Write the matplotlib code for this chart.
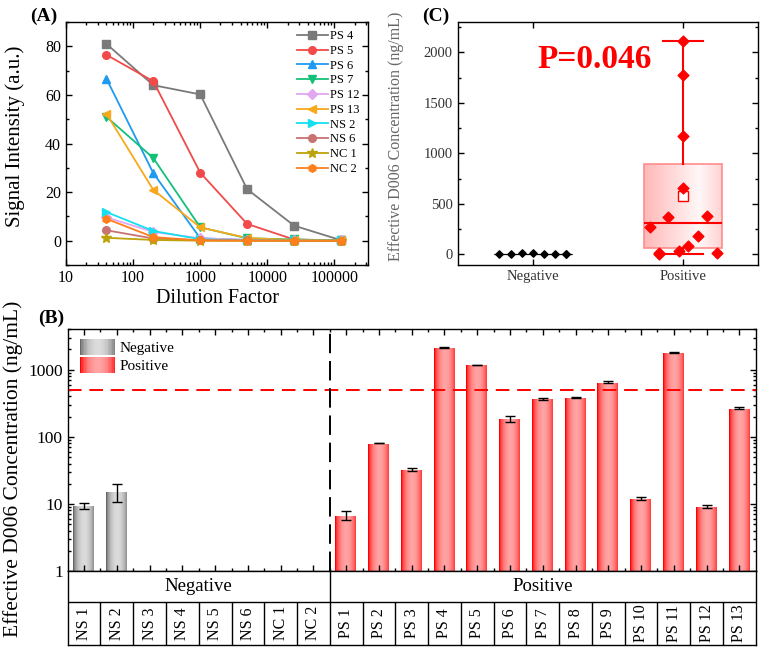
import numpy as np
import matplotlib
matplotlib.use('Agg')
import matplotlib.pyplot as plt
from matplotlib.ticker import LogLocator, MultipleLocator, NullFormatter, FixedLocator, FixedFormatter
from matplotlib.legend_handler import HandlerBase
from matplotlib.patches import Rectangle

plt.rcParams['font.family'] = ['Liberation Serif', 'DejaVu Serif']

# ---------------- Panel A data ----------------
dilution = [40, 200, 1000, 5000, 25000, 125000]
series_names = ['PS 4', 'PS 5', 'PS 6', 'PS 7', 'PS 12', 'PS 13', 'NS 2', 'NS 6', 'NC 1', 'NC 2']
ps4 = [81.0, 64.0, 60.2, 21.2, 6.2, 0.2]
ps5 = [76.5, 65.6, 28.0, 6.9, 0.5, 0.1]
ps6 = [66.7, 27.8, 1.0, 0.3, 0.1, 0.1]
ps7 = [51.0, 34.0, 5.5, 1.0, 0.5, 0.1]
ps12 = [9.6, 3.6, 1.0, 0.3, 0.1, 0.1]
ps13 = [52.3, 20.9, 5.5, 1.1, 0.3, 0.1]
ns2 = [11.8, 4.0, 0.6, 0.1, 0.1, 0.1]
ns6 = [4.3, 0.9, 0.2, 0.1, 0.0, 0.0]
nc1 = [1.2, 0.3, 0.0, 0.0, 0.0, 0.0]
nc2 = [9.0, 1.5, 0.1, 0.0, 0.0, 0.0]
series_values = [ps4, ps5, ps6, ps7, ps12, ps13, ns2, ns6, nc1, nc2]

# ---------------- Panel B data ----------------
neg_samples = ['NS 1', 'NS 2', 'NS 3', 'NS 4', 'NS 5', 'NS 6', 'NC 1', 'NC 2']
pos_samples = ['PS 1', 'PS 2', 'PS 3', 'PS 4', 'PS 5', 'PS 6', 'PS 7', 'PS 8', 'PS 9',
               'PS 10', 'PS 11', 'PS 12', 'PS 13']
neg_conc = [9.4, 15.2, 0, 0, 0, 0, 0, 0]
neg_err = [1.0, 4.5, 0, 0, 0, 0, 0, 0]
pos_conc = [6.8, 80.5, 32.5, 2110, 1175, 186, 369, 382, 655, 11.9, 1775, 9.1, 268]
pos_err = [1.1, 1.0, 2.0, 40, 10, 18, 15, 8, 25, 0.6, 30, 0.5, 6]
threshold = 500

# ---------------- Panel C data ----------------
group_names = ['Negative', 'Positive']
pos_box_stats = dict(q1=60, med=310, q3=895, whislo=5, whishi=2110, mean=580)
neg_box_stats = dict(q1=3, med=5, q3=7, whislo=3, whishi=7, mean=5)
p_text = 'P=0.046'

# ---------------- styles ----------------
line_colors = ['#7a7a7a', '#f24a4a', '#1e9bf0', '#12c07a', '#e3a6f0',
               '#f7a81b', '#16e0f0', '#c87272', '#bca30a', '#ff7f1c']
line_markers = ['s', 'o', '^', 'v', 'D', '<', '>', 'o', '*', 'h']

W, H = 761, 647
fig = plt.figure(figsize=(W / 100, H / 100), dpi=100)


def frac(x0, y0, x1, y1):
    return [x0 / W, 1 - y1 / H, (x1 - x0) / W, (y1 - y0) / H]


def style_axes(ax, lw=1.0):
    for s in ax.spines.values():
        s.set_linewidth(lw)
    ax.tick_params(which='both', direction='in', top=True, right=True, width=lw)
    ax.tick_params(which='major', length=4)
    ax.tick_params(which='minor', length=2.2)


# ================= Panel A =================
axA = fig.add_axes(frac(66, 22, 368, 265))
for name, vals, c, m in zip(series_names, series_values, line_colors, line_markers):
    ms = 7 if m == '*' else 5.5
    axA.plot(dilution, vals, color=c, marker=m, markersize=ms, lw=1.3, label=name)
axA.set_xscale('log')
axA.set_xlim(10, 3.16e5)
axA.set_ylim(-10, 90)
axA.xaxis.set_major_locator(FixedLocator([10, 100, 1000, 10000, 100000]))
axA.xaxis.set_major_formatter(FixedFormatter(['10', '100', '1000', '10000', '100000']))
axA.xaxis.set_minor_locator(LogLocator(base=10, subs=np.arange(2, 10)))
axA.xaxis.set_minor_formatter(NullFormatter())
axA.yaxis.set_major_locator(MultipleLocator(20))
axA.yaxis.set_minor_locator(MultipleLocator(10))
style_axes(axA)
axA.tick_params(labelsize=11.5)
axA.set_xlabel('Dilution Factor', fontsize=14.5)
axA.set_ylabel('Signal Intensity (a.u.)', fontsize=15)
axA.xaxis.set_label_coords(0.5, -0.1)
axA.yaxis.set_label_coords(-0.135, 0.53)
leg = axA.legend(loc='upper right', frameon=False, fontsize=9, handlelength=2.5,
                 labelspacing=0.22, borderaxespad=0.25, handletextpad=0.2)
fig.text(30 / W, 1 - 16 / H, '(A)', fontsize=14, fontweight='bold', va='center')

# ================= Panel C =================
axC = fig.add_axes(frac(457.7, 22, 758, 265))
bx = axC.bxp([dict(neg_box_stats, label=''), dict(pos_box_stats, label='')],
             positions=[1, 2], widths=0.52, showmeans=True, showfliers=False,
             patch_artist=True, capwidths=[0.27, 0.27],
             meanprops=dict(marker='s', markerfacecolor='white', markeredgecolor='red',
                            markersize=7, markeredgewidth=1.0),
             medianprops=dict(color='red', lw=1.5),
             whiskerprops=dict(color='red', lw=1.5),
             capprops=dict(color='red', lw=1.5),
             boxprops=dict(lw=1.0))
# negative box: collapsed black line
b_neg = bx['boxes'][0]
b_neg.set_facecolor('none')
b_neg.set_edgecolor('black')
b_neg.set_linewidth(0.8)
bx['medians'][0].set_color('black')
bx['medians'][0].set_linewidth(0.8)
for art in bx['whiskers'][:2] + bx['caps'][:2]:
    art.set_visible(False)
bx['means'][0].set_visible(False)
# positive box with gradient
b_pos = bx['boxes'][1]
b_pos.set_facecolor('none')
b_pos.set_edgecolor('#ff8c8c')
b_pos.set_linewidth(1.2)
t = np.linspace(0, 1, 200)
light = np.interp(t, [0, 0.7, 1.0], [0.72, 0.97, 0.82])
grad = np.dstack([np.ones_like(t), light, light])
im = axC.imshow(grad, extent=[2 - 0.26, 2 + 0.26, pos_box_stats['q1'], pos_box_stats['q3']],
                aspect='auto', zorder=1.5, interpolation='bilinear')
im.set_clip_path(b_pos)
b_pos.set_zorder(2)

# points
neg_offsets = [0.0, -0.074, -0.222, -0.148, 0.074, 0.148, 0.222, 0.222]
pos_offsets = [-0.16, 0.033, -0.029, 0.0, 0.0, 0.098, -0.098, 0.162, 0.0, 0.227, 0.0, -0.16, -0.222]
axC.scatter(np.array(neg_offsets) + 1, neg_conc, marker='D', s=14, color='black', zorder=4)
axC.scatter(np.array(pos_offsets) + 2, pos_conc, marker='D', s=30, color='red', zorder=4)
axC.set_xlim(0.5, 2.5)
axC.set_ylim(-106, 2300)
axC.set_xticks([1, 2])
axC.set_xticklabels(group_names)
axC.yaxis.set_major_locator(MultipleLocator(500))
axC.yaxis.set_minor_locator(MultipleLocator(250))
style_axes(axC)
axC.tick_params(axis='x', which='minor', bottom=False, top=False)
axC.tick_params(labelsize=10.5, labelcolor='#333333')
axC.set_ylabel('Effective D006 Concentration (ng/mL)', fontsize=11.5, color='#666666')
axC.yaxis.set_label_coords(-0.18, 0.53)
axC.text(1.41, 1930, p_text, color='red', fontsize=24, fontweight='bold',
         ha='center', va='center')
fig.text(422 / W, 1 - 16 / H, '(C)', fontsize=14, fontweight='bold', va='center')

# ================= Panel B =================
axB = fig.add_axes(frac(67.7, 329.3, 755.7, 571))
samples = neg_samples + pos_samples
conc = neg_conc + pos_conc
err = neg_err + pos_err
n_neg = len(neg_samples)
xpos = np.arange(len(samples))
axB.set_yscale('log')
axB.set_xlim(-0.5, len(samples) - 0.5)
axB.set_ylim(1, 4000)
bw = 0.66


def bar_grad(edge, center, n=100):
    tt = np.linspace(0, 1, n)
    f = np.sin(np.pi * tt) ** 0.6
    rgb = np.array(edge)[None, :] * (1 - f[:, None]) + np.array(center)[None, :] * f[:, None]
    return rgb[None, :, :]


gray_grad = bar_grad((0.40, 0.40, 0.40), (0.86, 0.86, 0.86))
red_grad = bar_grad((1.0, 0.0, 0.0), (1.0, 0.64, 0.64))

for i, (v, e) in enumerate(zip(conc, err)):
    if v <= 0:
        continue
    g = gray_grad if i < n_neg else red_grad
    rect = axB.bar(xpos[i], v, width=bw, bottom=1, color='none', edgecolor='none')[0]
    img = axB.imshow(g, extent=[xpos[i] - bw / 2, xpos[i] + bw / 2, 1, v],
                     aspect='auto', interpolation='bilinear', zorder=1)
    img.set_clip_path(rect)
    axB.errorbar(xpos[i], v, yerr=e, color='black', capsize=3.5, lw=1.0,
                 capthick=1.0, zorder=3)
axB.set_xlim(-0.5, len(samples) - 0.5)
axB.set_ylim(1, 4000)
axB.axhline(threshold, color='red', ls=(0, (7, 4)), lw=1.4, zorder=2)
axB.axvline(n_neg - 0.5, color='black', ls=(0, (10, 4)), lw=1.4, zorder=2)
axB.xaxis.set_major_locator(FixedLocator(xpos))
axB.xaxis.set_minor_locator(FixedLocator(xpos[:-1] + 0.5))
axB.xaxis.set_major_formatter(NullFormatter())
axB.yaxis.set_minor_locator(LogLocator(base=10, subs=np.arange(2, 10), numticks=10))
axB.yaxis.set_minor_formatter(NullFormatter())
axB.yaxis.set_major_locator(FixedLocator([1, 10, 100, 1000]))
axB.yaxis.set_major_formatter(FixedFormatter(['1', '10', '100', '1000']))
style_axes(axB)
axB.tick_params(labelsize=12.5)


class GradHandler(HandlerBase):
    def __init__(self, grad):
        super().__init__()
        self.grad = grad[0]

    def create_artists(self, legend, orig_handle, xdescent, ydescent, width, height,
                       fontsize, trans):
        n = len(self.grad)
        arts = []
        step = max(1, n // 25)
        idx = list(range(0, n, step))
        w = width / len(idx)
        for k, j in enumerate(idx):
            r = Rectangle((-xdescent + k * w, -ydescent - 0.25 * height), w * 1.05, height * 1.5,
                          facecolor=self.grad[j], edgecolor='none', transform=trans)
            arts.append(r)
        return arts


h_neg = Rectangle((0, 0), 1, 1, label='Negative')
h_pos = Rectangle((0, 0), 1, 1, label='Positive')
axB.legend(handles=[h_neg, h_pos], loc='upper left', frameon=False, fontsize=11,
           handler_map={h_neg: GradHandler(gray_grad), h_pos: GradHandler(red_grad)},
           handlelength=2.3, labelspacing=0.3, borderaxespad=0.4, handletextpad=0.3)
fig.text(13 / W, 1 - 469 / H, 'Effective D006 Concentration (ng/mL)', rotation=90,
         fontsize=15.5, ha='center', va='center')
fig.text(38 / W, 1 - 318 / H, '(B)', fontsize=14, fontweight='bold', va='center')

# ---- table under panel B ----
axT = fig.add_axes(frac(67.7, 571, 755.7, 645))
axT.set_xlim(-0.5, len(samples) - 0.5)
axT.set_ylim(0, 1)
axT.set_xticks([])
axT.set_yticks([])
for s in axT.spines.values():
    s.set_linewidth(1.0)
split = 43.3 / 74
axT.axhline(split, color='black', lw=1.0)
axT.vlines(xpos[:-1] + 0.5, 0, split, color='black', lw=1.0)
axT.vlines([n_neg - 0.5], split, 1, color='black', lw=1.0)
axT.text((n_neg - 1) / 2, (1 + split) / 2, 'Negative', ha='center', va='center', fontsize=13.5)
axT.text((n_neg + len(samples) - 1) / 2, (1 + split) / 2, 'Positive', ha='center',
         va='center', fontsize=13.5)
for x, name in zip(xpos, samples):
    axT.text(x, split / 2, name, rotation=90, ha='center', va='center', fontsize=11.5)

fig.savefig('out.png', dpi=100)
